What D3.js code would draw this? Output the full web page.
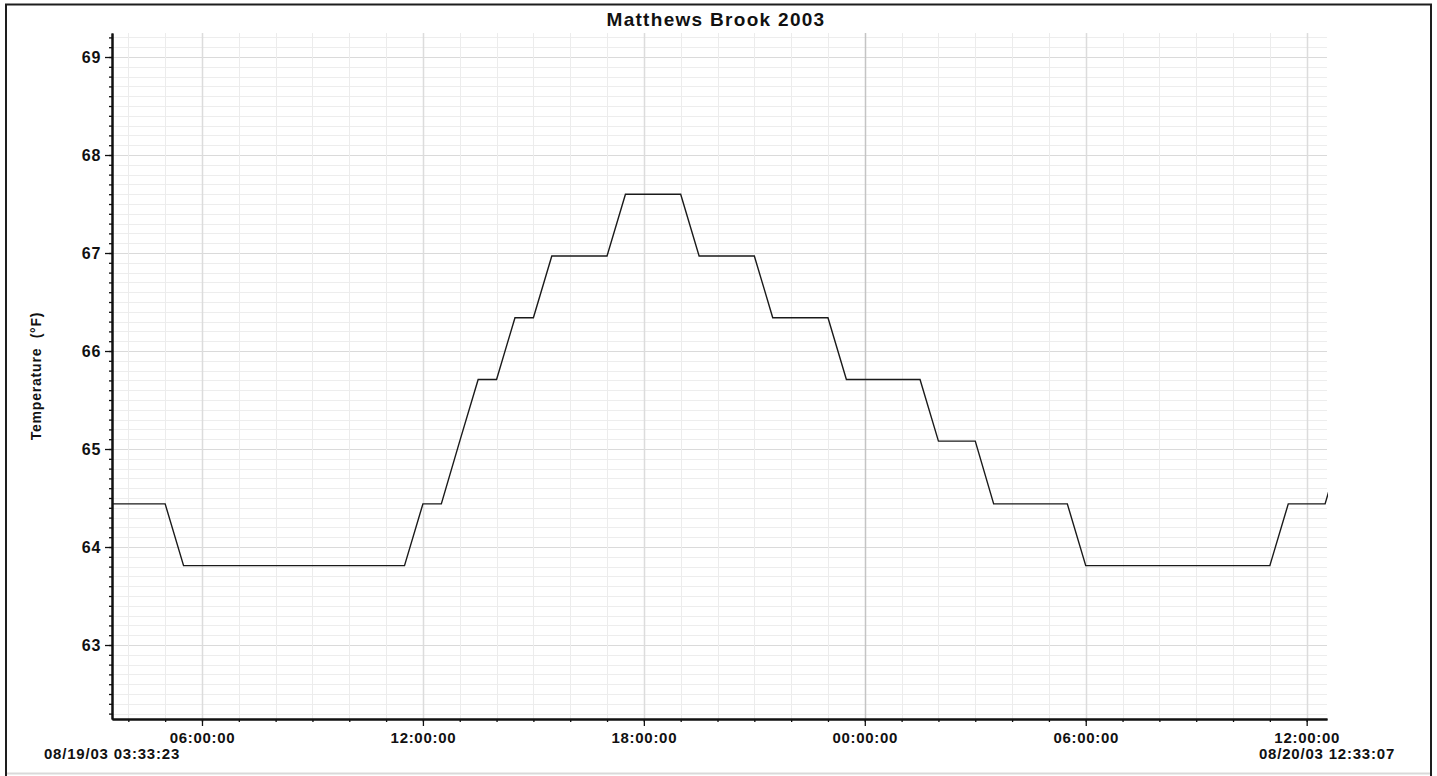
<!DOCTYPE html>
<html>
<head>
<meta charset="utf-8">
<script src="https://cdn.jsdelivr.net/npm/d3@7"></script>
<style>
  html, body { margin: 0; padding: 0; background: #ffffff; }
  svg { display: block; }
  text { font-family: "Liberation Sans", Arial, sans-serif; fill: #111; }
</style>
</head>
<body>
<svg id="chart" width="1437" height="776"></svg>
<script>
// Half-hourly logger readings, Matthews Brook, 19–20 Aug 2003
const sampleTimes = [
  "2003-08-19 03:30", "2003-08-19 04:00", "2003-08-19 04:30", "2003-08-19 05:00",
  "2003-08-19 05:30", "2003-08-19 06:00", "2003-08-19 06:30", "2003-08-19 07:00",
  "2003-08-19 07:30", "2003-08-19 08:00", "2003-08-19 08:30", "2003-08-19 09:00",
  "2003-08-19 09:30", "2003-08-19 10:00", "2003-08-19 10:30", "2003-08-19 11:00",
  "2003-08-19 11:30", "2003-08-19 12:00", "2003-08-19 12:30", "2003-08-19 13:00",
  "2003-08-19 13:30", "2003-08-19 14:00", "2003-08-19 14:30", "2003-08-19 15:00",
  "2003-08-19 15:30", "2003-08-19 16:00", "2003-08-19 16:30", "2003-08-19 17:00",
  "2003-08-19 17:30", "2003-08-19 18:00", "2003-08-19 18:30", "2003-08-19 19:00",
  "2003-08-19 19:30", "2003-08-19 20:00", "2003-08-19 20:30", "2003-08-19 21:00",
  "2003-08-19 21:30", "2003-08-19 22:00", "2003-08-19 22:30", "2003-08-19 23:00",
  "2003-08-19 23:30", "2003-08-20 00:00", "2003-08-20 00:30", "2003-08-20 01:00",
  "2003-08-20 01:30", "2003-08-20 02:00", "2003-08-20 02:30", "2003-08-20 03:00",
  "2003-08-20 03:30", "2003-08-20 04:00", "2003-08-20 04:30", "2003-08-20 05:00",
  "2003-08-20 05:30", "2003-08-20 06:00", "2003-08-20 06:30", "2003-08-20 07:00",
  "2003-08-20 07:30", "2003-08-20 08:00", "2003-08-20 08:30", "2003-08-20 09:00",
  "2003-08-20 09:30", "2003-08-20 10:00", "2003-08-20 10:30", "2003-08-20 11:00",
  "2003-08-20 11:30", "2003-08-20 12:00", "2003-08-20 12:30", "2003-08-20 13:00"
];

// Water temperature (°F)
const temperatureF = [
  64.44, 64.44, 64.44, 64.44,
  63.81, 63.81, 63.81, 63.81,
  63.81, 63.81, 63.81, 63.81,
  63.81, 63.81, 63.81, 63.81,
  63.81, 64.44, 64.44, 65.08,
  65.71, 65.71, 66.34, 66.34,
  66.97, 66.97, 66.97, 66.97,
  67.60, 67.60, 67.60, 67.60,
  66.97, 66.97, 66.97, 66.97,
  66.34, 66.34, 66.34, 66.34,
  65.71, 65.71, 65.71, 65.71,
  65.71, 65.08, 65.08, 65.08,
  64.44, 64.44, 64.44, 64.44,
  64.44, 63.81, 63.81, 63.81,
  63.81, 63.81, 63.81, 63.81,
  63.81, 63.81, 63.81, 63.81,
  64.44, 64.44, 64.44, 65.08
];

// Axis extent and labels
const windowStart = "2003-08-19 03:33:23";
const windowEnd = "2003-08-20 12:33:07";
const startLabel = "08/19/03 03:33:23";
const endLabel = "08/20/03 12:33:07";
const tempDomain = [62.245, 69.245];
const tempMajorTicks = [63, 64, 65, 66, 67, 68, 69];
const chartTitle = "Matthews Brook 2003";
const yAxisTitle = "Temperature  (°F)";

const parseTime = d3.timeParse("%Y-%m-%d %H:%M");
const parseFull = d3.timeParse("%Y-%m-%d %H:%M:%S");
const data = sampleTimes.map((t, i) => ({ t: parseTime(t), v: temperatureF[i] }));

const svg = d3.select("#chart");
const plot = { left: 112, right: 1327, top: 33, bottom: 719 };

const x = d3.scaleTime()
  .domain([parseFull(windowStart), parseFull(windowEnd)])
  .range([plot.left, plot.right]);
const y = d3.scaleLinear()
  .domain(tempDomain)
  .range([plot.bottom, plot.top]);

// Outer frame
svg.append("rect")
  .attr("x", 6).attr("y", 4.5)
  .attr("width", 1425).attr("height", 790)
  .attr("fill", "none").attr("stroke", "#1e1e1e").attr("stroke-width", 2);
svg.append("line")
  .attr("x1", 7).attr("x2", 1430).attr("y1", 773.5).attr("y2", 773.5)
  .attr("stroke", "#d9d9d9").attr("stroke-width", 2);

// Grid
const grid = svg.append("g");
const minorY = y.ticks(70);
grid.selectAll(".hy").data(minorY).join("line")
  .attr("x1", plot.left).attr("x2", plot.right)
  .attr("y1", d => Math.round(y(d)) + 0.5).attr("y2", d => Math.round(y(d)) + 0.5)
  .attr("stroke", d => Math.abs(d - Math.round(d)) < 1e-6 ? "#dadada" : "#ededed")
  .attr("stroke-width", 1);

const hourTicks = x.ticks(d3.timeHour.every(1));
grid.selectAll(".vx").data(hourTicks).join("line")
  .attr("x1", d => Math.round(x(d)) + 0.5).attr("x2", d => Math.round(x(d)) + 0.5)
  .attr("y1", plot.top).attr("y2", plot.bottom)
  .attr("stroke", d => d.getHours() === 0 ? "#c4c4c4" : (d.getHours() % 6 === 0 ? "#dcdcdc" : "#ececec"))
  .attr("stroke-width", d => d.getHours() % 6 === 0 ? 1.5 : 1);

// Temperature trace
svg.append("clipPath").attr("id", "plotClip")
  .append("rect")
  .attr("x", plot.left).attr("y", plot.top)
  .attr("width", plot.right - plot.left + 1).attr("height", plot.bottom - plot.top);

const line = d3.line().x(d => x(d.t)).y(d => y(d.v));
svg.append("path")
  .datum(data)
  .attr("clip-path", "url(#plotClip)")
  .attr("d", line)
  .attr("fill", "none")
  .attr("stroke", "#1a1a1a")
  .attr("stroke-width", 1.4);

// Y axis: minor then major ticks
const yMinor = d3.axisLeft(y).tickValues(minorY).tickSize(3).tickFormat("").tickSizeOuter(0);
const yMajor = d3.axisLeft(y).tickValues(tempMajorTicks).tickSize(7).tickPadding(4)
  .tickFormat(d3.format("d")).tickSizeOuter(0);
const yMinorG = svg.append("g").attr("transform", `translate(${plot.left},0)`).call(yMinor);
const yMajorG = svg.append("g").attr("transform", `translate(${plot.left},0)`).call(yMajor);

// X axis: hourly minor ticks, six-hourly labelled ticks
const xMinor = d3.axisBottom(x).tickValues(hourTicks).tickSize(3).tickFormat("").tickSizeOuter(0);
const xMajor = d3.axisBottom(x).ticks(d3.timeHour.every(6)).tickSize(7).tickPadding(6)
  .tickFormat(d3.timeFormat("%H:%M:%S")).tickSizeOuter(0);
const xMinorG = svg.append("g").attr("transform", `translate(0,${plot.bottom})`).call(xMinor);
const xMajorG = svg.append("g").attr("transform", `translate(0,${plot.bottom})`).call(xMajor);

[yMinorG, yMajorG, xMinorG, xMajorG].forEach(g => {
  g.selectAll("line").attr("stroke", "#111").attr("stroke-width", 1.3);
  g.select(".domain").attr("stroke", "#111").attr("stroke-width", 2);
  g.selectAll("text")
    .style("font-family", "'Liberation Sans', Arial, sans-serif")
    .style("font-weight", "bold")
    .style("font-size", "15px")
    .style("letter-spacing", "0.7px")
    .attr("fill", "#111");
});
yMajorG.selectAll("text").style("font-size", "16px").attr("dy", "0.36em");
xMajorG.selectAll("text").attr("dy", "0.71em");

// Window start / end stamps
const stampStyle = sel => sel
  .attr("text-anchor", "middle")
  .style("font-weight", "bold").style("font-size", "15px").style("letter-spacing", "0.8px");
svg.append("text").attr("x", x.range()[0]).attr("y", 759).text(startLabel).call(stampStyle);
svg.append("text").attr("x", x.range()[1]).attr("y", 759).text(endLabel).call(stampStyle);

// Title
svg.append("text")
  .attr("x", 716).attr("y", 26)
  .attr("text-anchor", "middle")
  .style("font-weight", "bold").style("font-size", "19px").style("letter-spacing", "1.3px")
  .text(chartTitle);

// Y axis title
svg.append("text")
  .attr("transform", `translate(41,${(plot.top + plot.bottom) / 2}) rotate(-90)`)
  .attr("text-anchor", "middle")
  .style("white-space", "pre")
  .style("font-weight", "bold")
  .style("font-size", "14px").style("letter-spacing", "0.8px")
  .text(yAxisTitle);
</script>
</body>
</html>
